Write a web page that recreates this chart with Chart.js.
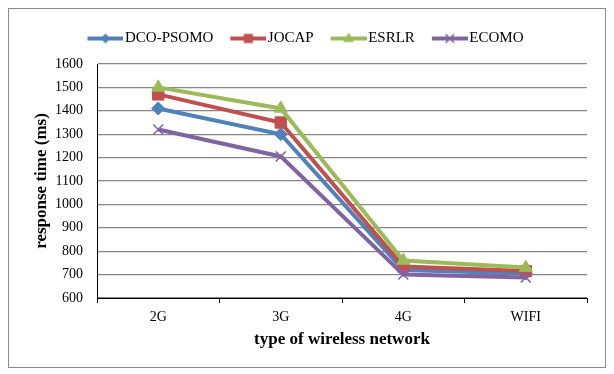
<!DOCTYPE html>
<html><head><meta charset="utf-8">
<script src="https://cdn.jsdelivr.net/npm/chart.js@4"></script>
<style>
html,body{margin:0;padding:0;background:#fff;}
#box{position:absolute;left:8px;top:8px;width:596px;height:358px;border:1px solid #8c8c8c;}
canvas{display:block;}
</style></head><body>
<div id="box"><canvas id="c" width="596" height="358"></canvas></div>
<script>
const categories = ['2G', '3G', '4G', 'WIFI'];
const seriesNames = ['DCO-PSOMO', 'JOCAP', 'ESRLR', 'ECOMO'];
const dcoPsomo = [1410, 1300, 720, 705];
const jocap = [1470, 1350, 735, 715];
const esrlr = [1500, 1410, 760, 730];
const ecomo = [1320, 1205, 700, 688];
const yMin = 600, yMax = 1600, yStep = 100;
const xTitle = 'type of wireless network';
const yTitle = 'response time (ms)';

const colors = ['#4F81BD', '#C0504D', '#9BBB59', '#8064A2'];
const styles = ['rectRot', 'rect', 'triangle', 'crossRot'];
const radii = [6.5, 8, 7.5, 7];
const values = [dcoPsomo, jocap, esrlr, ecomo];
const FONT = "'Liberation Serif', 'Times New Roman', serif";

function drawMarker(ctx, style, x, y, r, color) {
  ctx.fillStyle = color; ctx.strokeStyle = color;
  ctx.beginPath();
  if (style === 'rectRot') {
    ctx.moveTo(x, y - r); ctx.lineTo(x + r, y); ctx.lineTo(x, y + r); ctx.lineTo(x - r, y); ctx.closePath(); ctx.fill();
  } else if (style === 'rect') {
    const s = r * Math.SQRT1_2;
    ctx.rect(x - s, y - s, 2 * s, 2 * s); ctx.fill();
  } else if (style === 'triangle') {
    ctx.moveTo(x, y - r); ctx.lineTo(x + r * 0.9, y + r * 0.6); ctx.lineTo(x - r * 0.9, y + r * 0.6); ctx.closePath(); ctx.fill();
  } else {
    ctx.lineWidth = 1.5;
    const d = r * 0.75;
    ctx.moveTo(x - d, y - d); ctx.lineTo(x + d, y + d); ctx.moveTo(x + d, y - d); ctx.lineTo(x - d, y + d); ctx.stroke();
  }
}
function makeIcon(i) {
  const c = document.createElement('canvas');
  c.width = 42; c.height = 18;
  const g = c.getContext('2d');
  g.strokeStyle = colors[i]; g.lineWidth = 4;
  g.beginPath(); g.moveTo(6, 9); g.lineTo(42, 9); g.stroke();
  drawMarker(g, styles[i], 24, 9, radii[i] - 1.5, colors[i]);
  return c;
}
const icons = seriesNames.map((_, i) => makeIcon(i));

const datasets = seriesNames.map((name, i) => ({
  label: name,
  data: values[i],
  borderColor: colors[i],
  backgroundColor: colors[i],
  pointBackgroundColor: colors[i],
  pointBorderColor: colors[i],
  borderWidth: 4,
  pointStyle: styles[i],
  pointRadius: radii[i],
  pointBorderWidth: styles[i] === 'crossRot' ? 1.5 : 1,
  tension: 0,
  order: seriesNames.length - i
}));

const legendSpacer = {
  id: 'legendSpacer',
  beforeLayout(chart) {
    const lg = chart.legend;
    if (lg && !lg._spaced) {
      const f = lg.fit.bind(lg);
      lg.fit = function () { f(); this.height += 8; };
      lg._spaced = true;
    }
  }
};

new Chart(document.getElementById('c'), {
  type: 'line',
  data: { labels: categories, datasets },
  plugins: [legendSpacer],
  options: {
    responsive: false,
    animation: false,
    layout: { padding: { left: 15, right: 18, top: 5, bottom: 10 } },
    plugins: {
      legend: {
        position: 'top',
        labels: {
          usePointStyle: true,
          pointStyleWidth: 30,
          padding: 17,
          color: '#000',
          font: { family: FONT, size: 15 },
          generateLabels: (chart) => chart.data.datasets.map((ds, i) => ({
            text: ds.label, pointStyle: icons[i], fillStyle: colors[i], strokeStyle: colors[i],
            lineWidth: 0, hidden: false, datasetIndex: i, fontColor: '#000'
          }))
        }
      },
      tooltip: { enabled: false }
    },
    scales: {
      x: {
        offset: true,
        grid: { offset: true, drawOnChartArea: false, tickLength: 5, tickColor: '#000', color: '#000' },
        border: { color: '#000', width: 1 },
        ticks: { color: '#000', padding: 6, font: { family: FONT, size: 14 } },
        title: { display: true, text: xTitle, color: '#000', font: { family: FONT, size: 17, weight: 'bold' }, padding: { top: 0, bottom: 7 } },
        afterFit: (s) => { s.height = 59; }
      },
      y: {
        min: yMin, max: yMax,
        ticks: { stepSize: yStep, padding: 14, color: '#000', font: { family: FONT, size: 14 }, callback: (v) => String(v) },
        grid: { color: '#878787', lineWidth: 1.3, drawTicks: false },
        border: { color: '#000', width: 1 },
        title: { display: true, text: yTitle, color: '#000', font: { family: FONT, size: 17, weight: 'bold' }, padding: { top: 7, bottom: 0 } },
        afterFit: (s) => { s.width = 73; }
      }
    }
  }
});
</script>
</body></html>
